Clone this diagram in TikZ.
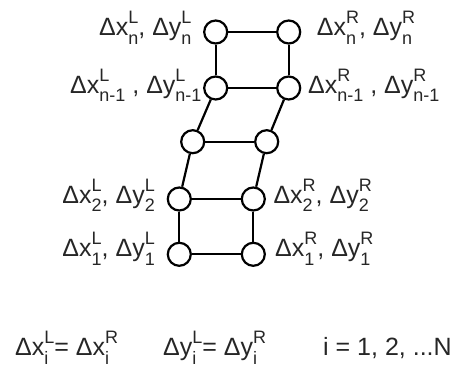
\documentclass[tikz,border=0pt]{standalone}
\usepackage{fontspec}
\setmainfont{Liberation Sans}
\newcommand\scr[2]{{\fontsize{18}{18}\selectfont\setbox0\hbox{\raisebox{12pt}{#1}}\setbox2\hbox{\raisebox{-8.5pt}{#2}}\ifdim\wd0>\wd2 \rlap{\box2}\box0\else\rlap{\box0}\box2\fi}}
\tikzset{
  joint/.style={circle,draw=black,line width=2.2pt,fill=white,minimum size=23pt,inner sep=0pt},
  bar/.style={line width=2.2pt,black},
  lab/.style={inner sep=0pt,font=\fontsize{25}{25}\selectfont,text=black!85}
}
\begin{document}
\begin{tikzpicture}[x=1pt,y=-1pt]
\useasboundingbox (0,0) rectangle (457,371);
% joints
\node[joint] (L6) at (215.7,32) {};
\node[joint] (R6) at (288.7,32) {};
\node[joint] (L5) at (215.7,88) {};
\node[joint] (R5) at (288.7,88) {};
\node[joint] (L4) at (192.7,141.7) {};
\node[joint] (R4) at (266.7,141.7) {};
\node[joint] (L2) at (179.3,199) {};
\node[joint] (R2) at (253.3,199) {};
\node[joint] (L1) at (179.3,254.3) {};
\node[joint] (R1) at (253.3,254.3) {};
% bars
\draw[bar] (L6) -- (R6);
\draw[bar] (L5) -- (R5);
\draw[bar] (L4) -- (R4);
\draw[bar] (L2) -- (R2);
\draw[bar] (L1) -- (R1);
\draw[bar] (L6) -- (L5);
\draw[bar] (R6) -- (R5);
\draw[bar] (L5) -- (L4);
\draw[bar] (R5) -- (R4);
\draw[bar] (L4) -- (L2);
\draw[bar] (R4) -- (R2);
\draw[bar] (L2) -- (L1);
\draw[bar] (R2) -- (R1);
% labels
\node[lab,anchor=base east] (tL6) at (191.7,36) {Δx\scr{L}{n}, Δy\scr{L}{n}};
\node[lab,anchor=base west] (tR6) at (316.7,36) {Δx\scr{R}{n}, Δy\scr{R}{n}};
\node[lab,anchor=base east] (tL5) at (201.7,93.3) {Δx\scr{L}{n-1} , Δy\scr{L}{n-1}};
\node[lab,anchor=base west] (tR5) at (308,93.3) {Δx\scr{R}{n-1} , Δy\scr{R}{n-1}};
\node[lab,anchor=base east] (tL2) at (155,203.3) {Δx\scr{L}{2}, Δy\scr{L}{2}};
\node[lab,anchor=base west] (tR2) at (273.3,203.3) {Δx\scr{R}{2}, Δy\scr{R}{2}};
\node[lab,anchor=base east] (tL1) at (155,256.7) {Δx\scr{L}{1}, Δy\scr{L}{1}};
\node[lab,anchor=base west] (tR1) at (275,256.7) {Δx\scr{R}{1}, Δy\scr{R}{1}};
% equations
\node[lab,anchor=base west] (e1) at (15,355.7) {Δx\scr{L}{i}= Δx\scr{R}{i}};
\node[lab,anchor=base west] (e2) at (163,355.7) {Δy\scr{L}{i}= Δy\scr{R}{i}};
\node[lab,anchor=base west] (e3) at (323,355.7) {i = 1, 2, ...N};
\end{tikzpicture}
\end{document}
